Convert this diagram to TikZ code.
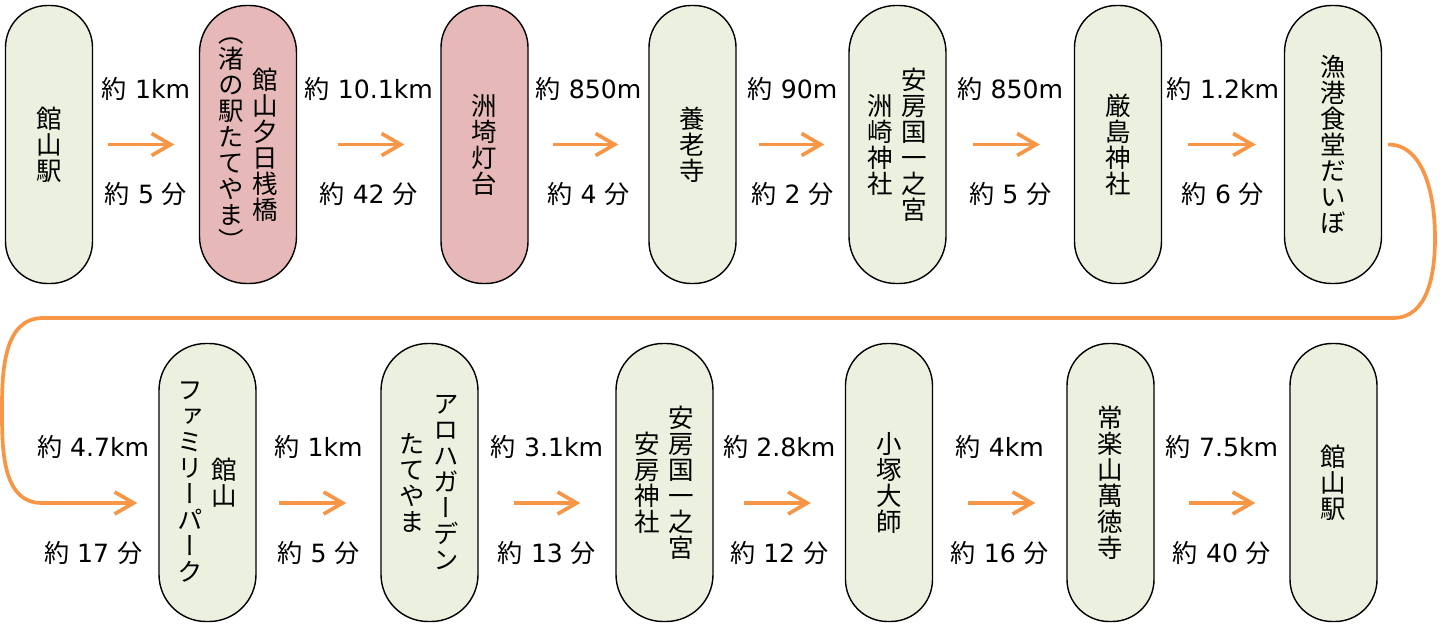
\documentclass[tikz,border=0pt]{standalone}
\usepackage{fontspec}
\setmainfont{DejaVu Sans}
\newfontfamily\jpfont{Noto Sans CJK JP}
\newfontfamily\tatefont[RawFeature=+vert]{Noto Sans CJK JP}
\usetikzlibrary{arrows.meta}

\definecolor{stopgreen}{RGB}{235,241,222}
\definecolor{stoppink}{RGB}{230,185,184}
\definecolor{route}{RGB}{247,150,70}

\newcommand{\yaku}{{\jpfont 約}}
\newcommand{\fun}{{\jpfont 分}}
\newcommand{\tcol}[1]{\parbox[c]{1.2em}{\centering #1}}

\tikzset{
  stop/.style={draw=black, line width=0.8pt, fill=stopgreen, inner sep=0pt,
    minimum width=1.74cm, minimum height=5.56cm, rounded corners=0.84cm,
    font=\tatefont\fontsize{14.5}{14.8}\selectfont},
  wide/.style={minimum width=1.94cm, rounded corners=0.94cm},
  pink/.style={fill=stoppink},
  go/.style={draw=route, line width=2.1pt, -{Straight Barb[length=0.38cm, width=0.44cm]}},
  cut/.style 2 args={shorten <=#1, shorten >=#2},
  kmlabel/.style={font=\fontsize{14.3}{16}\selectfont, yshift=1.12cm},
  minlabel/.style={font=\fontsize{14.3}{16}\selectfont, yshift=-0.99cm}
}

\begin{document}
\begin{tikzpicture}
  \useasboundingbox (0,0) rectangle (29,12.46);

  % Top row
  \node[stop] (tateyama) at (0.98,9.57) {\tcol{館\\山\\駅}};
  \node[stop, wide, pink] (sanbashi) at (4.96,9.57)
    {\tcol{︵\\渚\\の\\駅\\た\\て\\や\\ま\\︶}\hspace{2pt}\tcol{館\\山\\夕\\日\\桟\\橋}};
  \node[stop, pink] (toudai) at (9.69,9.57) {\tcol{洲\\埼\\灯\\台}};
  \node[stop] (yourouji) at (13.85,9.57) {\tcol{養\\老\\寺}};
  \node[stop, wide] (suzaki) at (17.95,9.57)
    {\tcol{洲\\崎\\神\\社}\hspace{2pt}\tcol{安\\房\\国\\一\\之\\宮}};
  \node[stop] (itsukushima) at (22.36,9.57) {\tcol{厳\\島\\神\\社}};
  \node[stop, wide] (daibo) at (26.66,9.57) {\tcol{漁\\港\\食\\堂\\だ\\い\\ぼ}};

  % Bottom row
  \node[stop, wide] (family) at (4.15,2.81)
    {\tcol{フ\\ァ\\ミ\\リ\\ー\\パ\\ー\\ク}\hspace{2pt}\tcol{館\\山}};
  \node[stop, wide] (aloha) at (8.59,2.81)
    {\tcol{た\\て\\や\\ま}\hspace{2pt}\tcol{ア\\ロ\\ハ\\ガ\\ー\\デ\\ン}};
  \node[stop, wide] (awa) at (13.29,2.81)
    {\tcol{安\\房\\神\\社}\hspace{2pt}\tcol{安\\房\\国\\一\\之\\宮}};
  \node[stop] (kozuka) at (17.78,2.81) {\tcol{小\\塚\\大\\師}};
  \node[stop] (mantokuji) at (22.21,2.81) {\tcol{常\\楽\\山\\萬\\徳\\寺}};
  \node[stop] (goal) at (26.67,2.81) {\tcol{館\\山\\駅}};

  % Legs, top row
  \draw[go, cut={0.29cm}{0.49cm}] (tateyama) --
    node[kmlabel] {\yaku\ 1km} node[minlabel] {\yaku\ 5 \fun} (sanbashi);
  \draw[go, cut={0.81cm}{0.72cm}] (sanbashi) --
    node[kmlabel] {\yaku\ 10.1km} node[minlabel] {\yaku\ 42 \fun} (toudai);
  \draw[go, cut={0.48cm}{0.60cm}] (toudai) --
    node[kmlabel] {\yaku\ 850m} node[minlabel] {\yaku\ 4 \fun} (yourouji);
  \draw[go, cut={0.44cm}{0.48cm}] (yourouji) --
    node[kmlabel] {\yaku\ 90m} node[minlabel] {\yaku\ 2 \fun} (suzaki);
  \draw[go, cut={0.52cm}{0.68cm}] (suzaki) --
    node[kmlabel] {\yaku\ 850m} node[minlabel] {\yaku\ 5 \fun} (itsukushima);
  \draw[go, cut={0.52cm}{0.56cm}] (itsukushima) --
    node[kmlabel] {\yaku\ 1.2km} node[minlabel] {\yaku\ 6 \fun} (daibo);

  % Turn to the second row
  \coordinate (bendE) at (28.70,7.70);
  \coordinate (cornerE) at (27.86,6.10);
  \coordinate (cornerW) at (0.86,6.10);
  \coordinate (bendW) at (0.04,4.30);
  \coordinate (entry) at (0.84,2.40);
  \draw[go, cut={0.12cm}{0.42cm}] (daibo.east) to[out=0, in=90] (bendE)
    to[out=-90, in=0] (cornerE) -- (cornerW)
    to[out=180, in=90] (bendW) to[out=-90, in=180] (entry) --
    node[pos=0.44, kmlabel] {\yaku\ 4.7km} node[pos=0.44, minlabel] {\yaku\ 17 \fun}
    ([yshift=-0.41cm]family.west);

  % Legs, bottom row
  \draw[go, cut={0.44cm}{0.68cm}] ([yshift=-0.41cm]family.east) --
    node[kmlabel] {\yaku\ 1km} node[minlabel] {\yaku\ 5 \fun} ([yshift=-0.41cm]aloha.west);
  \draw[go, cut={0.70cm}{0.70cm}] ([yshift=-0.41cm]aloha.east) --
    node[kmlabel] {\yaku\ 3.1km} node[minlabel] {\yaku\ 13 \fun} ([yshift=-0.41cm]awa.west);
  \draw[go, cut={0.60cm}{0.68cm}] ([yshift=-0.41cm]awa.east) --
    node[kmlabel] {\yaku\ 2.8km} node[minlabel] {\yaku\ 12 \fun} ([yshift=-0.41cm]kozuka.west);
  \draw[go, cut={0.70cm}{0.62cm}] ([yshift=-0.41cm]kozuka.east) --
    node[kmlabel] {\yaku\ 4km} node[minlabel] {\yaku\ 16 \fun} ([yshift=-0.41cm]mantokuji.west);
  \draw[go, cut={0.68cm}{0.68cm}] ([yshift=-0.41cm]mantokuji.east) --
    node[kmlabel] {\yaku\ 7.5km} node[minlabel] {\yaku\ 40 \fun} ([yshift=-0.41cm]goal.west);
\end{tikzpicture}
\end{document}
